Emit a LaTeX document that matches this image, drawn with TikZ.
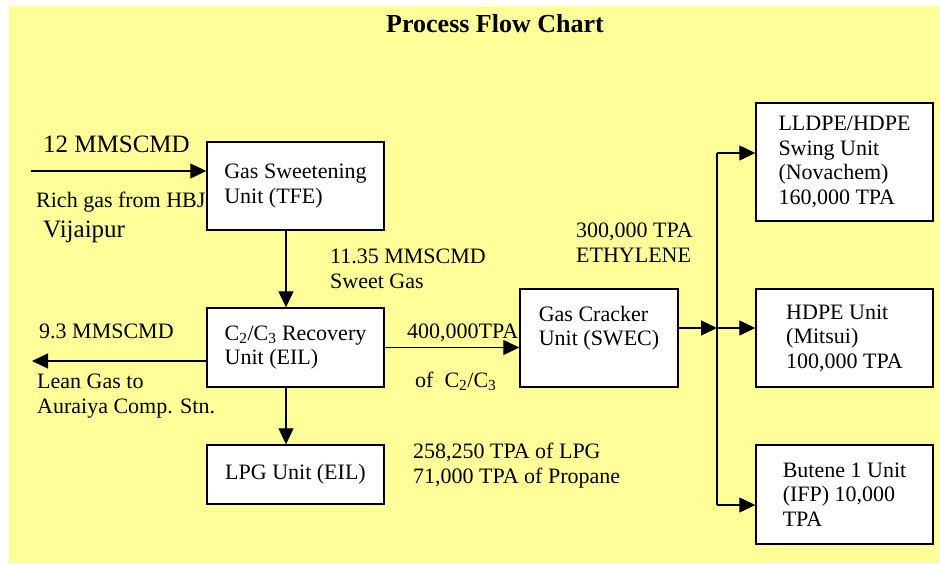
\documentclass[tikz,border=0pt]{standalone}
\usepackage{fontspec}
\setmainfont{Liberation Serif}
\usetikzlibrary{arrows.meta}
\definecolor{chartyellow}{RGB}{255,255,153}

\begin{document}
\begin{tikzpicture}[x=1pt,y=-1pt,unit/.style={draw, fill=white, line width=1.4pt, align=left, inner sep=0pt, minimum width=177pt, font=\fontsize{22}{24.5}\selectfont},note/.style={anchor=base west, align=left, inner sep=0pt, font=\fontsize{22}{24.5}\selectfont},bignote/.style={note, font=\fontsize{25}{28}\selectfont},flow/.style={line width=1.3pt, -{Triangle[length=16pt,width=15pt]}},pipe/.style={line width=1.3pt}]
\useasboundingbox (0,0) rectangle (940,563);
\fill[chartyellow] (9,6) rectangle (940,563);
\node[anchor=base west, inner sep=0pt, font=\fontsize{26}{30}\selectfont\bfseries] (title) at (386,32) {Process Flow Chart};
% units
\node[unit, minimum height=88pt] (sweet) at (295.5,186) {Gas Sweetening\\Unit (TFE)};
\node[unit, minimum height=79pt] (recov) at (295.5,347.5) {C\textsubscript{2}/C\textsubscript{3} Recovery\\Unit (EIL)};
\node[unit, minimum height=59pt] (lpg) at (295.5,474.5) {LPG Unit (EIL)};
\node[unit, minimum width=158pt, minimum height=98pt] (crack) at (599,338) {Gas Cracker\\Unit (SWEC)\\\mbox{}};
\node[unit, minimum height=118pt] (swing) at (844.5,162) {LLDPE/HDPE\\Swing Unit\\(Novachem)\\160,000 TPA};
\node[unit, minimum height=98pt] (hdpe) at (844.5,338) {HDPE Unit\\(Mitsui)\\100,000 TPA};
\node[unit, minimum height=99pt] (butene) at (844.5,494.5) {Butene 1 Unit\\(IFP) 10,000\\TPA};
% stream labels (base = last line)
\node[bignote] (feedrate) at (43,152) {12 MMSCMD};
\node[note] (feedsrc) at (36,207) {Rich gas from HBJ};
\node[bignote] (feedplace) at (43,237) {Vijaipur};
\node[note] (sweetrate) at (330,288) {11.35 MMSCMD\\Sweet Gas};
\node[note] (leanrate) at (39,338) {9.3 MMSCMD};
\node[note] (leandest) at (37,413) {Lean Gas to\\Auraiya Comp. Stn.};
\node[note] (c2c3rate) at (407,338) {400,000TPA};
\node[note] (c2c3) at (415,387) {of\ \ C\textsubscript{2}/C\textsubscript{3}};
\node[note] (lpgrate) at (413,483) {258,250 TPA of LPG\\71,000 TPA of Propane};
\node[note] (ethrate) at (576,262) {300,000 TPA\\ETHYLENE};
% streams
\coordinate (feed) at (31,171);
\coordinate (lean) at (32,361);
\coordinate (split) at (717,328);
\coordinate (top) at (717,153);
\coordinate (bot) at (717,505);
\draw[flow] (feed) -- (feed -| sweet.west);
\draw[flow] ([xshift=-9.5pt]sweet.south) -- ([xshift=-9.5pt]recov.north);
\draw[flow] (recov.west |- lean) -- (lean);
\draw[flow] ([xshift=-9.5pt]recov.south) -- ([xshift=-9.5pt]lpg.north);
\draw[flow] (recov.east) -- (recov.east -| crack.west);
\draw[flow] (crack.east |- split) -- (split);
\draw[pipe] (top) -- (bot);
\draw[flow] (top) -- (top -| swing.west);
\draw[flow] (split) -- (split -| hdpe.west);
\draw[flow] (bot) -- (bot -| butene.west);
\end{tikzpicture}
\end{document}
